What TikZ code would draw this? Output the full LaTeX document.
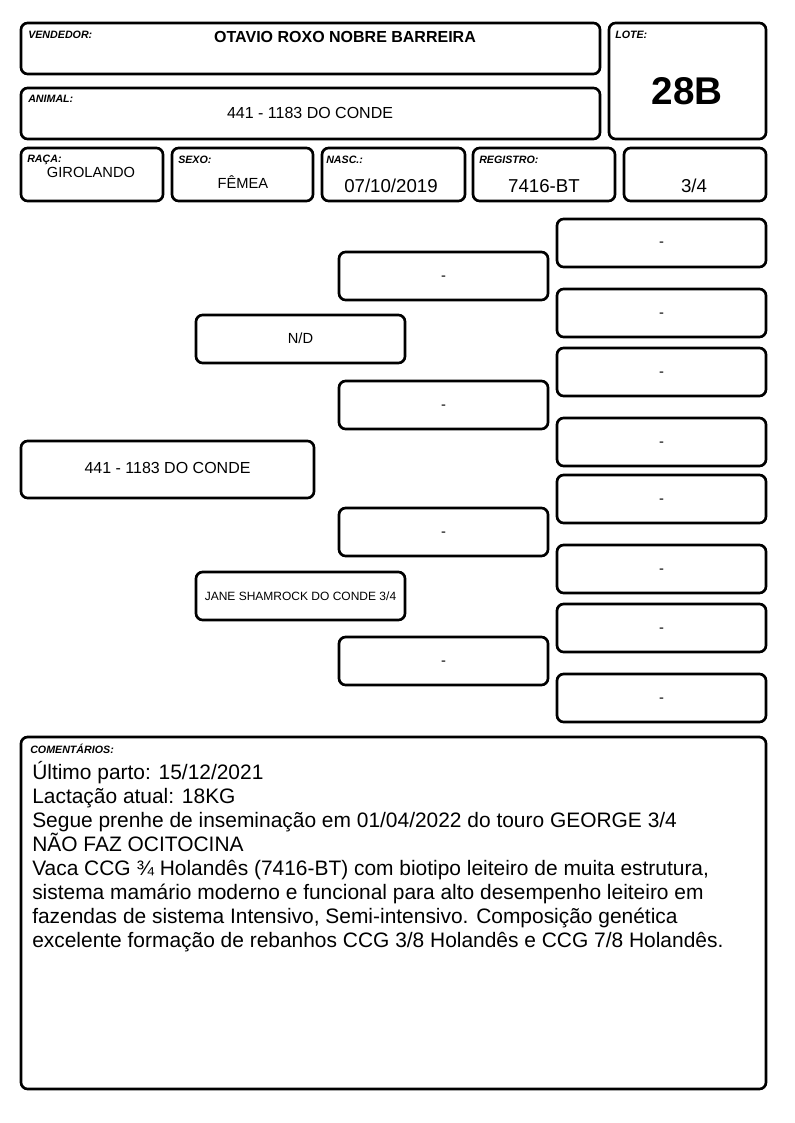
\documentclass[tikz,border=0pt]{standalone}
\usepackage{fontspec}
\setmainfont{Liberation Sans}
\newcommand\pbox[7][]{%
  \pgfmathsetmacro\pbw{(#5-#3)*0.75}%
  \pgfmathsetmacro\pbh{(#6-#4)*0.75}%
  \node[box,#1,minimum width=\pbw pt,minimum height=\pbh pt] (#2) at ({(#3+#5)/2},{(#4+#6)/2}) {#7};}
\begin{document}
\begin{tikzpicture}[x=0.75pt,y=-0.75pt,
  box/.style={draw=black,line width=2pt,rounded corners=5pt,inner sep=0pt,text height=0.6em,text depth=0pt,font=\fontsize{11}{13}\selectfont},
  lbl/.style={font=\fontsize{8}{9}\selectfont\bfseries\itshape,inner sep=0pt,anchor=base west},
  val/.style={font=\fontsize{11}{13}\selectfont,inner sep=0pt,anchor=base},
  bigval/.style={font=\fontsize{14}{16}\selectfont,inner sep=0pt,anchor=base},
  small/.style={font=\fontsize{9}{11}\selectfont}]
\useasboundingbox (0,0) rectangle (794,1123);
% header boxes
\pbox{vend}{21}{23}{600}{74}{}
\pbox{lote}{609}{23}{766}{139}{}
\pbox{anim}{21}{88}{600}{139}{}
\pbox{raca}{21}{148}{163}{201}{}
\pbox{sexo}{172}{148}{313}{201}{}
\pbox{nasc}{322}{148}{465}{201}{}
\pbox{reg}{473}{148}{615}{201}{}
\pbox{frac}{624}{148}{766}{201}{}
% header labels
\node[lbl] (lvend) at (28,39) {VENDEDOR:};
\node[lbl] (llote) at (615,39) {LOTE:};
\node[lbl] (lanim) at (28,103) {ANIMAL:};
\node[lbl] (lraca) at (27,163) {RAÇA:};
\node[lbl] (lsexo) at (178,164) {SEXO:};
\node[lbl] (lnasc) at (326,164) {NASC.:};
\node[lbl] (lreg) at (479,164) {REGISTRO:};
% header values
\node[val,font=\fontsize{12}{14}\selectfont\bfseries] (tvend) at (345,43) {OTAVIO ROXO NOBRE BARREIRA};
\node[val,font=\fontsize{29}{32}\selectfont\bfseries] (tlote) at (687,105) {28B};
\node[val,font=\fontsize{12}{14}\selectfont] (tanim) at (310,119) {441 - 1183 DO CONDE};
\node[val] (traca) at (91,178) {GIROLANDO};
\node[val] (tsexo) at (243,189) {FÊMEA};
\node[bigval] (tnasc) at (391,193) {07/10/2019};
\node[bigval] (treg) at (544,193) {7416-BT};
\node[bigval] (tfrac) at (694,193) {3/4};
% pedigree column 1
\pbox[font=\fontsize{12}{14}\selectfont]{p1}{21}{441}{314}{498}{441 - 1183 DO CONDE}
% column 2
\pbox{p2a}{196}{315}{405}{363}{N/D}
\pbox[small]{p2b}{196}{572}{405}{620}{JANE SHAMROCK DO CONDE 3/4}
% column 3
\pbox{p3a}{339}{252}{548}{300}{-}
\pbox{p3b}{339}{381}{548}{429}{-}
\pbox{p3c}{339}{508}{548}{556}{-}
\pbox{p3d}{339}{637}{548}{685}{-}
% column 4
\pbox{p4a}{557}{219}{766}{267}{-}
\pbox{p4b}{557}{289}{766}{337}{-}
\pbox{p4c}{557}{348}{766}{396}{-}
\pbox{p4d}{557}{418}{766}{466}{-}
\pbox{p4e}{557}{475}{766}{523}{-}
\pbox{p4f}{557}{545}{766}{593}{-}
\pbox{p4g}{557}{604}{766}{652}{-}
\pbox{p4h}{557}{674}{766}{722}{-}
% comments
\pbox{com}{21}{737}{766}{1089}{}
\node[lbl] (lcom) at (30,753) {COMENTÁRIOS:};
\node[inner sep=0pt,anchor=north west,align=left,font=\fontsize{15.7}{18}\selectfont] (tcom) at (32,761) {Último parto: 15/12/2021\\
Lactação atual: 18KG\\
Segue prenhe de inseminação em 01/04/2022 do touro GEORGE 3/4\\
NÃO FAZ OCITOCINA\\
Vaca CCG ¾ Holandês (7416-BT) com biotipo leiteiro de muita estrutura,\\
sistema mamário moderno e funcional para alto desempenho leiteiro em\\
fazendas de sistema Intensivo, Semi-intensivo. Composição genética\\
excelente formação de rebanhos CCG 3/8 Holandês e CCG 7/8 Holandês.};
\end{tikzpicture}
\end{document}
